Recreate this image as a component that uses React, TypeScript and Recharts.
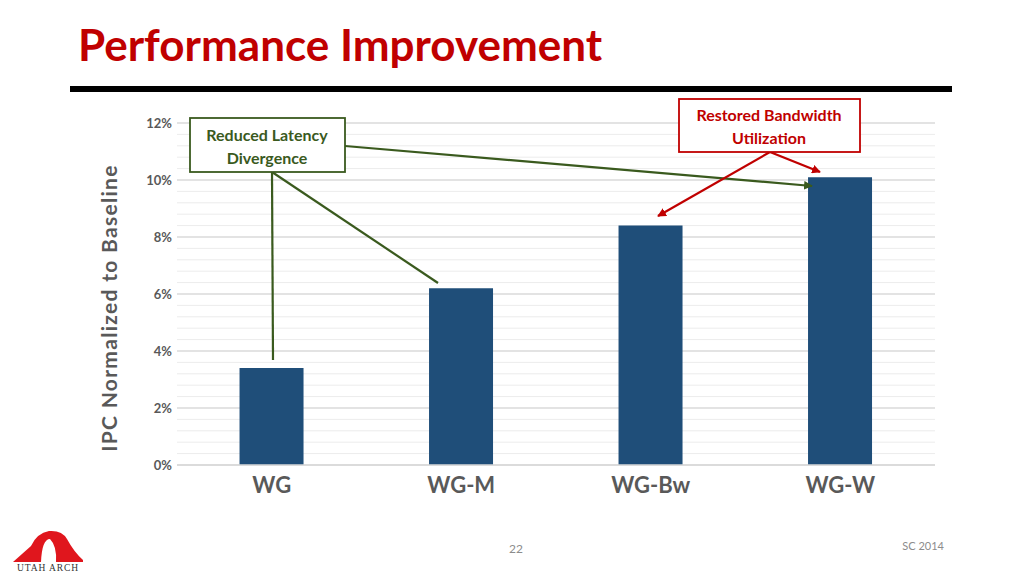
import React from 'react';
import { BarChart, Bar, XAxis, YAxis, CartesianGrid } from 'recharts';

const categories = ['WG', 'WG-M', 'WG-Bw', 'WG-W'];
const ipcGain = [0.034, 0.062, 0.084, 0.101];
const yTicks = [0, 0.02, 0.04, 0.06, 0.08, 0.1, 0.12];
const minorTicks = [
    0.004, 0.008, 0.012, 0.016, 0.024, 0.028, 0.032, 0.036, 0.044, 0.048, 0.052, 0.056,
    0.064, 0.068, 0.072, 0.076, 0.084, 0.088, 0.092, 0.096, 0.104, 0.108, 0.112, 0.116
];
const Y_MAX = 0.12;

const data = categories.map((name, i) => ({ name, ipc: ipcGain[i] }));

const FONT = 'Lato, "Open Sans", sans-serif';
const GREEN = '#3a5a1e';
const RED = '#c00000';
const GREY = '#595959';

const pct = (v: number) => `${Math.round(v * 100)}%`;

// minor grid rows, placed through the y scale when it is handed over
const minorRows = ({ yAxis, offset }: any) =>
    minorTicks.map((v) =>
        yAxis && typeof yAxis.scale === 'function'
            ? yAxis.scale(v)
            : offset.top + offset.height * (1 - v / Y_MAX)
    );

const Annotations: React.FC = () => (
    <svg width={1024} height={575} style={{ position: 'absolute', left: 0, top: 0, pointerEvents: 'none' }}>
        <defs>
            <marker id="gArrow" viewBox="0 0 10 10" refX="9" refY="5" markerWidth="4" markerHeight="4" orient="auto">
                <path d="M0,0 L10,5 L0,10 z" fill={GREEN} />
            </marker>
            <marker id="rArrow" viewBox="0 0 10 10" refX="9" refY="5" markerWidth="4" markerHeight="4" orient="auto">
                <path d="M0,0 L10,5 L0,10 z" fill={RED} />
            </marker>
        </defs>

        {/* title + rule */}
        <text x={78} y={61} fontFamily={FONT} fontWeight={700} fontSize={44} fill={RED}>
            Performance Improvement
        </text>
        <rect x={70} y={86} width={882} height={6} fill="#000" />

        {/* y axis title */}
        <text
            x={108}
            y={308}
            transform="rotate(-90 108 308)"
            textAnchor="middle"
            dominantBaseline="central"
            fontFamily={FONT}
            fontWeight={700}
            fontSize={21}
            letterSpacing={1.3}
            fill={GREY}
        >
            IPC Normalized to Baseline
        </text>

        {/* green callout */}
        <line x1={272} y1={172} x2={273} y2={360} stroke={GREEN} strokeWidth={2.2} />
        <line x1={272} y1={172} x2={438} y2={283} stroke={GREEN} strokeWidth={2.2} />
        <line x1={345} y1={146} x2={812} y2={186} stroke={GREEN} strokeWidth={2.2} markerEnd="url(#gArrow)" />
        <rect x={190} y={118} width={155} height={54} fill="#fff" stroke={GREEN} strokeWidth={1.8} />
        <text x={267} y={141} textAnchor="middle" fontFamily={FONT} fontWeight={700} fontSize={16} fill={GREEN}>
            Reduced Latency
        </text>
        <text x={267} y={164} textAnchor="middle" fontFamily={FONT} fontWeight={700} fontSize={16} fill={GREEN}>
            Divergence
        </text>

        {/* red callout */}
        <line x1={770} y1={152} x2={658} y2={216} stroke={RED} strokeWidth={2.2} markerEnd="url(#rArrow)" />
        <line x1={770} y1={152} x2={820} y2={172} stroke={RED} strokeWidth={2.2} markerEnd="url(#rArrow)" />
        <rect x={679} y={99} width={181} height={53} fill="#fff" stroke={RED} strokeWidth={1.8} />
        <text x={769} y={121} textAnchor="middle" fontFamily={FONT} fontWeight={700} fontSize={16} fill={RED}>
            Restored Bandwidth
        </text>
        <text x={769} y={144} textAnchor="middle" fontFamily={FONT} fontWeight={700} fontSize={16} fill={RED}>
            Utilization
        </text>

        {/* footer */}
        <text x={516} y={553} textAnchor="middle" fontFamily={FONT} fontSize={12} fill="#8c8c8c">22</text>
        <text x={944} y={550} textAnchor="end" fontFamily={FONT} fontSize={11} fill="#8c8c8c">SC 2014</text>

        {/* logo */}
        <path
            d="M13,562 Q22,554 31,546 Q37,533 49,531 Q62,530 67,539 Q74,552 83,560 L83,562 L56,562
               Q57,546 50,539 Q42,539 41,562 Z"
            fill="#e0161d"
        />
        <text x={48} y={571} textAnchor="middle" fontFamily="'Liberation Serif', serif" fontSize={9.5} letterSpacing={0.9} fill="#333">
            UTAH ARCH
        </text>
    </svg>
);

const App: React.FC = () => {
    return (
        <div style={{ position: 'absolute', left: 0, top: 0, width: 1024, height: 575, background: '#fff', overflow: 'hidden' }}>
            <BarChart
                width={1024}
                height={575}
                data={data}
                margin={{ top: 123, right: 89, left: 117, bottom: 70 }}
                barCategoryGap="33%"
            >
                <CartesianGrid
                    vertical={false}
                    horizontalCoordinatesGenerator={minorRows}
                    stroke="#ececec"
                    strokeWidth={1}
                />
                <CartesianGrid vertical={false} stroke="#dadada" strokeWidth={1.5} />
                <XAxis
                    dataKey="name"
                    axisLine={{ stroke: '#d9d9d9', strokeWidth: 1.5 }}
                    tickLine={false}
                    tickSize={0}
                    tickMargin={12}
                    height={40}
                    tick={{ fontFamily: FONT, fontWeight: 700, fontSize: 22, fill: GREY }}
                />
                <YAxis
                    domain={[0, Y_MAX]}
                    ticks={yTicks}
                    tickFormatter={pct}
                    axisLine={false}
                    tickLine={false}
                    tickSize={0}
                    tickMargin={5}
                    width={60}
                    tick={{ fontFamily: FONT, fontWeight: 700, fontSize: 13, fill: GREY }}
                />
                <Bar dataKey="ipc" fill="#1f4e79" isAnimationActive={false} />
            </BarChart>
            <Annotations />
        </div>
    );
};

export default App;
